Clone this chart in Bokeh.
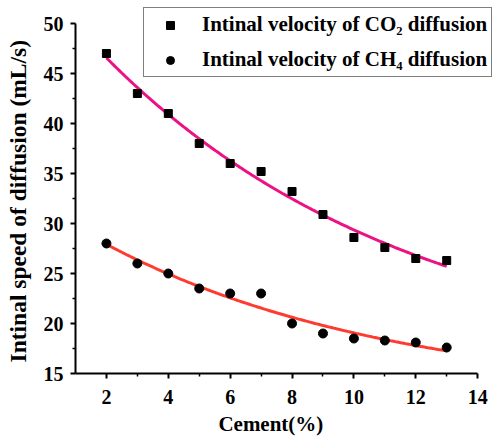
import numpy as np
from bokeh.plotting import figure
from bokeh.models import Legend, LegendItem, FixedTicker, Range1d
from bokeh.embed import file_html
from bokeh.resources import INLINE

cement = [2, 3, 4, 5, 6, 7, 8, 9, 10, 11, 12, 13]
co2_velocity = [47.0, 43.0, 41.0, 38.0, 36.0, 35.2, 33.2, 30.9, 28.6, 27.6, 26.5, 26.3]
ch4_velocity = [28.0, 26.0, 25.0, 23.5, 23.0, 23.0, 20.0, 19.0, 18.5, 18.3, 18.1, 17.6]
x_ticks = [2, 4, 6, 8, 10, 12, 14]
x_minor = [3, 5, 7, 9, 11, 13]
y_ticks = [15, 20, 25, 30, 35, 40, 45, 50]
y_minor = [17.5, 22.5, 27.5, 32.5, 37.5, 42.5, 47.5]

FONT = "Liberation Serif"
PINK = "#EC1184"
RED = "#FF3B30"
NB = "\u00a0"


def exp_fit(x, y):
    # y = A*exp(-x/t) + y0, least squares over t
    x = np.asarray(x, float)
    y = np.asarray(y, float)
    best = None
    for t in np.linspace(1, 60, 2000):
        M = np.column_stack([np.exp(-x / t), np.ones_like(x)])
        coef, res, *_ = np.linalg.lstsq(M, y, rcond=None)
        r = np.sum((M @ coef - y) ** 2)
        if best is None or r < best[0]:
            best = (r, t, coef)
    _, t, coef = best
    xs = np.linspace(x.min(), x.max(), 200)
    return xs, coef[0] * np.exp(-xs / t) + coef[1]


p = figure(width=492, height=439, output_backend="svg", toolbar_location=None,
           x_range=Range1d(1, 14.48), y_range=Range1d(15, 51.8),
           min_border_left=75, min_border_right=0, min_border_top=5, min_border_bottom=66)
p.outline_line_color = None
p.grid.visible = False
p.background_fill_color = "white"
p.border_fill_color = "white"

xs1, ys1 = exp_fit(cement, co2_velocity)
xs2, ys2 = exp_fit(cement, ch4_velocity)
p.line(xs1, ys1, line_color=PINK, line_width=3)
p.line(xs2, ys2, line_color=RED, line_width=3)
r1 = p.scatter(cement, co2_velocity, marker="square", size=8, color="black")
r2 = p.scatter(cement, ch4_velocity, marker="circle", size=9, color="black")

p.xaxis.ticker = FixedTicker(ticks=x_ticks, minor_ticks=x_minor)
p.yaxis.ticker = FixedTicker(ticks=y_ticks, minor_ticks=y_minor)
p.xaxis.bounds = (1, 14)
p.yaxis.bounds = (15, 50)

for ax in (p.xaxis[0], p.yaxis[0]):
    ax.axis_line_width = 2
    ax.major_tick_line_width = 2
    ax.minor_tick_line_width = 1.5
    ax.major_tick_in = 0
    ax.major_tick_out = 5
    ax.minor_tick_in = 0
    ax.minor_tick_out = 3
    ax.major_label_text_font = FONT
    ax.major_label_text_font_style = "bold"
    ax.major_label_text_font_size = "20px"
    ax.major_label_text_color = "black"
    ax.axis_label_text_font = FONT
    ax.axis_label_text_font_style = "bold"
    ax.axis_label_text_color = "black"

p.xaxis.axis_label = "Cement(%)" + NB * 5
p.xaxis.axis_label_text_font_size = "21px"
p.xaxis.major_label_standoff = 11
p.xaxis.axis_label_standoff = 5
p.yaxis.axis_label = "Intinal speed of diffusion (mL/s)" + NB * 4
p.yaxis.axis_label_text_font_size = "23.5px"
p.yaxis.major_label_standoff = 7
p.yaxis.axis_label_standoff = 10

legend = Legend(items=[
    LegendItem(label="Intinal velocity of CO\u2082 diffusion", renderers=[r1]),
    LegendItem(label="Intinal velocity of CH\u2084 diffusion", renderers=[r2]),
], location=(68, 296))
legend.label_text_font = FONT
legend.label_text_font_style = "bold"
legend.label_text_font_size = "21px"
legend.label_text_color = "black"
legend.border_line_color = "black"
legend.border_line_width = 1
legend.background_fill_alpha = 1
legend.padding = 4
legend.margin = 0
legend.glyph_width = 44
legend.glyph_height = 20
legend.label_height = 20
legend.label_standoff = 10
legend.spacing = 10
p.add_layout(legend, "center")

open("out.html", "w").write(file_html(p, INLINE))
